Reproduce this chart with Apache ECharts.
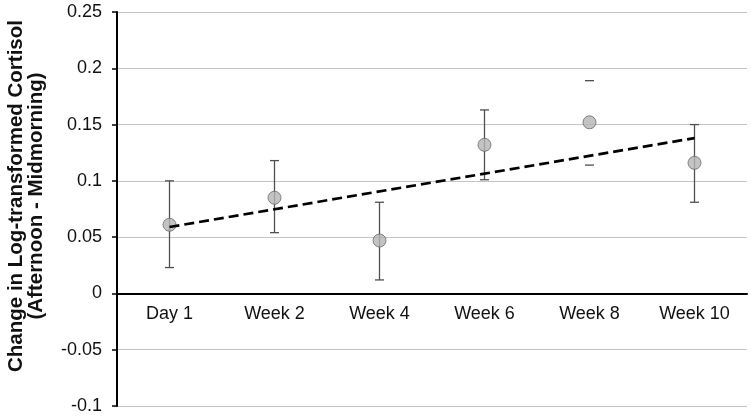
<!DOCTYPE html>
<html>
<head>
<meta charset="utf-8">
<script src="https://cdn.jsdelivr.net/npm/echarts@6/dist/echarts.min.js"></script>
<style>html,body{margin:0;padding:0;background:#fff;}#c{width:751px;height:417px;}</style>
</head>
<body>
<div id="c"></div>
<script>
const categories = ['Day 1', 'Week 2', 'Week 4', 'Week 6', 'Week 8', 'Week 10'];
const means = [0.061, 0.085, 0.047, 0.132, 0.152, 0.116];
const upper = [0.100, 0.118, 0.081, 0.163, 0.189, 0.150];
const lower = [0.023, 0.054, 0.012, 0.101, 0.114, 0.081];
const trendStart = ['Day 1', 0.059];
const trendEnd = ['Week 10', 0.138];
const yTicks = { min: -0.1, max: 0.25, step: 0.05 };
const stemlessCategories = ['Week 8'];

const chart = echarts.init(document.getElementById('c'));
const errData = categories.map((c, i) => [i, lower[i], upper[i]]);
const FONT = 'Liberation Sans, Arial, sans-serif';

chart.setOption({
  animation: false,
  grid: { left: 117, right: 4, top: 12, bottom: 11, outerBoundsMode: 'none', containLabel: false },
  xAxis: {
    type: 'category',
    data: categories,
    boundaryGap: true,
    position: 'bottom',
    offset: 0,
    axisLine: { onZero: false, lineStyle: { color: '#000', width: 2 } },
    axisTick: { alignWithLabel: true, length: 4, lineStyle: { color: '#000', width: 1.5 } },
    axisLabel: { color: '#111', fontSize: 18, fontFamily: FONT, margin: 12 },
    splitLine: { show: false }
  },
  yAxis: {
    type: 'value',
    min: yTicks.min, max: yTicks.max, interval: yTicks.step,
    axisLine: { show: true, onZero: false, lineStyle: { color: '#000', width: 2 } },
    axisTick: { show: true, length: 5, lineStyle: { color: '#000', width: 1.5 } },
    axisLabel: { color: '#111', fontSize: 18, fontFamily: FONT, margin: 15 },
    splitLine: { show: true, lineStyle: { color: '#c4c4c4', width: 1 } }
  },
  graphic: [{
    type: 'text',
    rotation: Math.PI / 2,
    x: 26, y: 196,
    style: {
      text: 'Change in Log-transformed Cortisol\n(Afternoon - Midmorning)',
      font: 'bold 20.5px Liberation Sans, Arial, sans-serif',
      fill: '#111',
      align: 'center',
      verticalAlign: 'middle',
      lineHeight: 20
    }
  }],
  series: [
    {
      type: 'custom',
      z: 2,
      data: errData,
      renderItem: function (params, api) {
        const idx = api.value(0);
        const lo = api.coord([idx, api.value(1)]);
        const hi = api.coord([idx, api.value(2)]);
        const hw = 4.5;
        const st = { stroke: '#505050', lineWidth: 1.3 };
        const children = [
          { type: 'line', shape: { x1: hi[0] - hw, y1: hi[1], x2: hi[0] + hw, y2: hi[1] }, style: st },
          { type: 'line', shape: { x1: lo[0] - hw, y1: lo[1], x2: lo[0] + hw, y2: lo[1] }, style: st }
        ];
        if (stemlessCategories.indexOf(categories[idx]) < 0) {
          children.push({ type: 'line', shape: { x1: hi[0], y1: hi[1], x2: lo[0], y2: lo[1] }, style: st });
        }
        return { type: 'group', children: children };
      }
    },
    {
      type: 'scatter',
      z: 3,
      data: means,
      symbol: 'circle',
      symbolSize: 13,
      itemStyle: { color: '#b4b4b4', borderColor: '#6a6a6a', borderWidth: 1 }
    },
    {
      type: 'line',
      z: 4,
      data: [trendStart, trendEnd],
      symbol: 'none',
      lineStyle: { color: '#000', width: 2.7, type: [10, 5] }
    }
  ]
});
// Move the category axis up to y = 0 using the library's own scale.
const zeroPx = chart.convertToPixel({ yAxisIndex: 0 }, 0);
const bottomPx = chart.convertToPixel({ yAxisIndex: 0 }, yTicks.min);
chart.setOption({ xAxis: { offset: -(bottomPx - zeroPx) } });
</script>
</body>
</html>
